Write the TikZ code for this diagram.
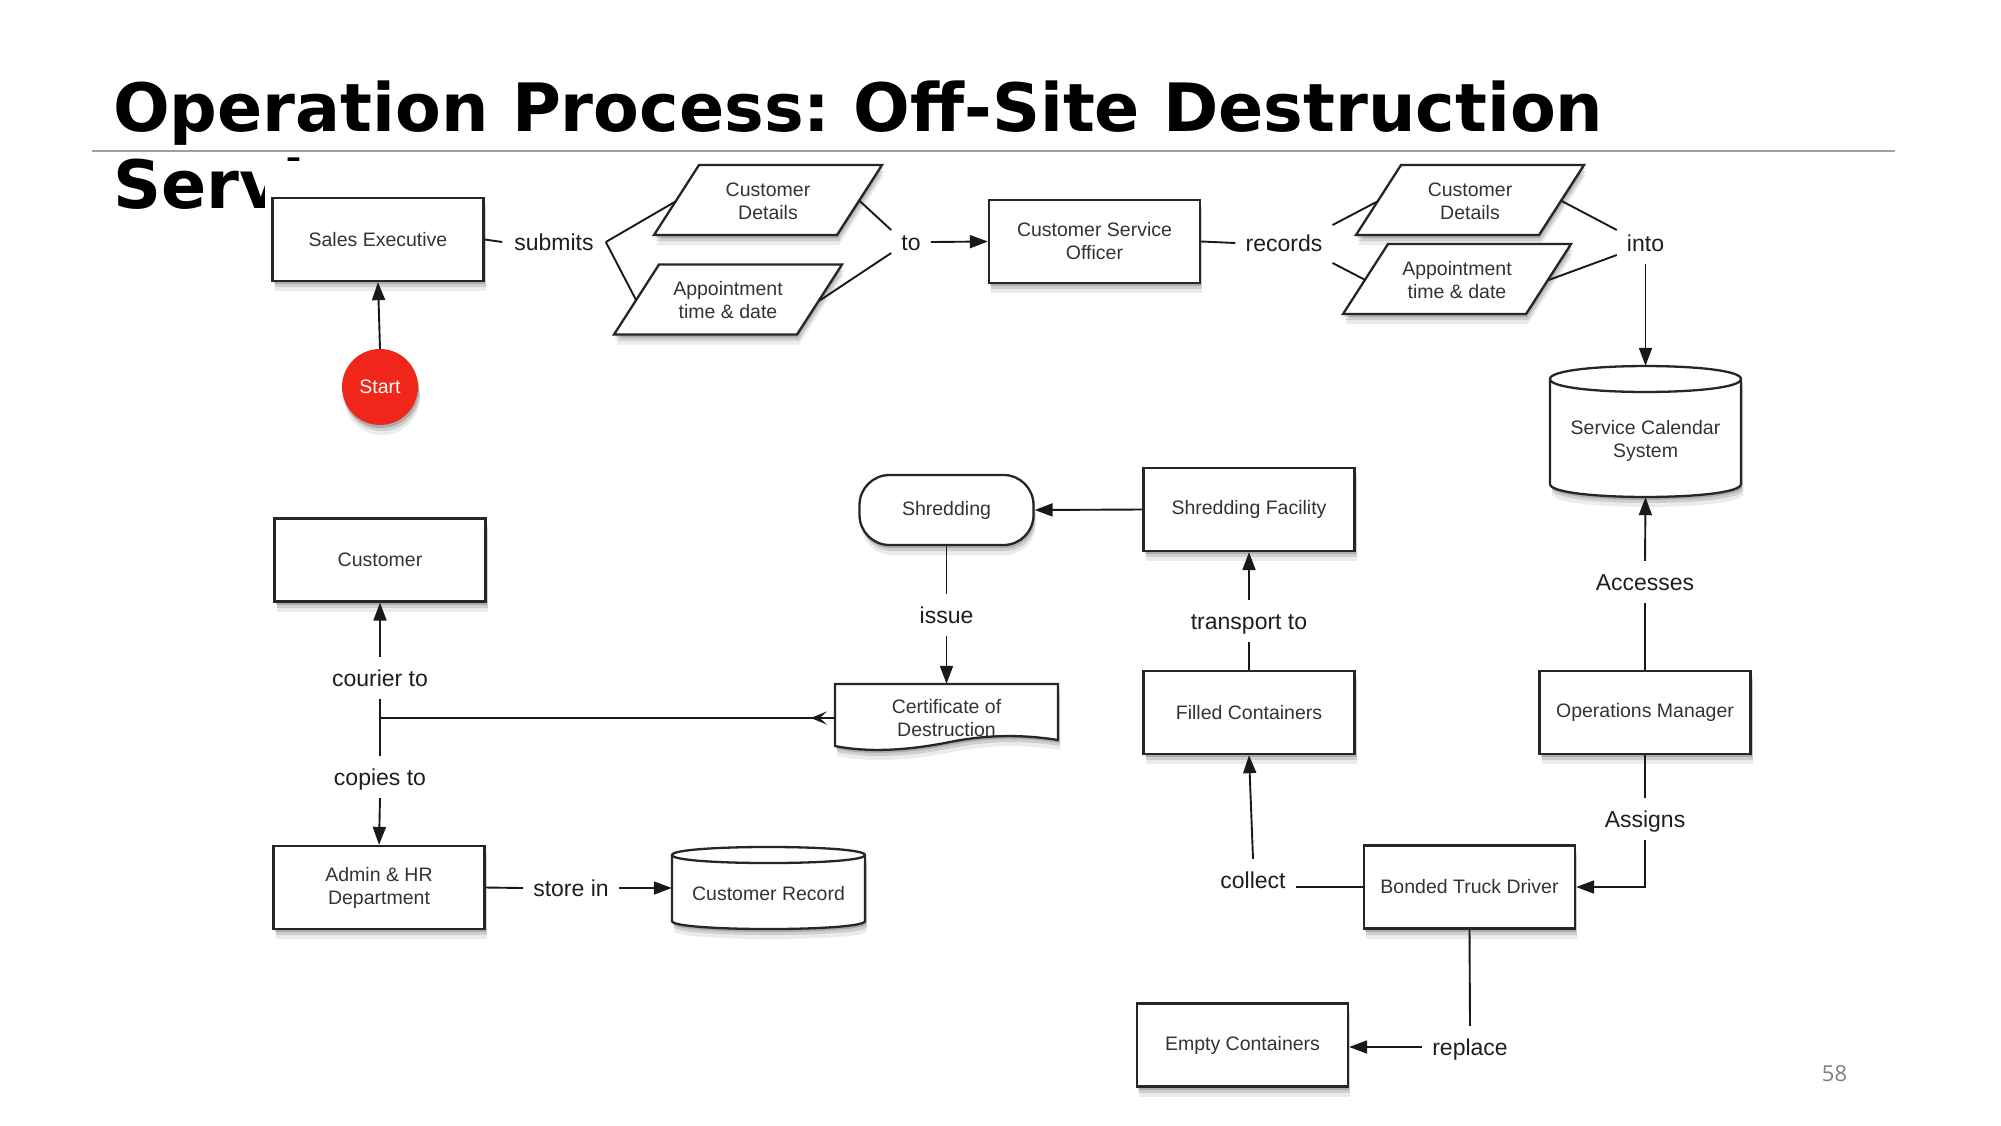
\documentclass[tikz,border=0pt]{standalone}
\usepackage{fontspec}
\setmainfont{Liberation Sans}
\newfontfamily\titlefont{DejaVu Sans}
\newfontfamily\numfont{Open Sans}
\usetikzlibrary{shadows,arrows.meta}
\definecolor{startred}{HTML}{F0261A}
\definecolor{boxtext}{HTML}{333333}
\definecolor{labeltext}{HTML}{1E1E1E}
\definecolor{rulegray}{HTML}{A0A0A0}
\definecolor{pagegray}{HTML}{808080}
\tikzset{
  softshadow/.style={
    drop shadow={shadow xshift=1pt, shadow yshift=-3pt, opacity=.16, fill=black},
    drop shadow={shadow xshift=2pt, shadow yshift=-6pt, opacity=.12, fill=black},
    drop shadow={shadow xshift=2pt, shadow yshift=-10pt, opacity=.08, fill=black}},
  shapeline/.style={draw=black!85, line width=2.3pt},
  boxstyle/.style={shapeline, fill=white, minimum width=211pt, minimum height=83pt,
    font=\fontsize{19.5}{23}\selectfont, text=boxtext, align=center, softshadow},
  textonly/.style={inner sep=0pt, font=\fontsize{19.5}{23}\selectfont, text=boxtext, align=center},
  lbl/.style={font=\fontsize{23}{27}\selectfont, text=labeltext, inner xsep=10pt,
    inner ysep=10pt, text height=19.5pt, text depth=2.5pt},
  conn/.style={draw=black!90, line width=1.9pt},
  arr/.style={conn, -{Triangle[length=18pt,width=13pt]}},
  openarr/.style={conn, -{Stealth[length=16pt,width=13pt,inset=7pt]}},
}
\newcommand\parashape[2]{%
  \draw[shapeline, fill=white, softshadow] (#1-114,#2+35) -- (#1+69,#2+35) -- (#1+114,#2-35) -- (#1-69,#2-35) -- cycle;}
\begin{document}
\begin{tikzpicture}[x=1pt, y=-1pt]
\useasboundingbox (0,0) rectangle (2001,1125);
\fill[white] (0,0) rectangle (2001,1125);
% title
\node[anchor=base west, inner sep=0pt, font=\titlefont\bfseries\frenchspacing\fontsize{66.7}{77}\selectfont] (title1) at (113,131) {Operation Process: Off-Site Destruction};
\node[anchor=base west, inner sep=0pt, font=\titlefont\bfseries\fontsize{66.7}{77}\selectfont] (title2) at (113,208) {Service};
\draw[rulegray, line width=2pt] (92,151) -- (1895,151);
% the diagram picture covers the title's second line
\fill[white] (265,161) rectangle (1800,1110);
% custom shapes
\parashape{768}{200}
\parashape{728}{299.5}
\parashape{1470}{200}
\parashape{1457}{279}
% certificate (document)
\draw[shapeline, fill=white, softshadow] (835,684) -- (1058,684) -- (1058,740)
  .. controls (1020,734) and (985,735) .. (950,742)
  .. controls (910,750) and (870,753) .. (835,746) -- cycle;
% service calendar cylinder
\draw[shapeline, fill=white, softshadow] (1550,379) -- (1550,484)
  .. controls (1550,501.3) and (1741,501.3) .. (1741,484) -- (1741,379)
  .. controls (1741,361.7) and (1550,361.7) .. cycle;
\draw[shapeline] (1550,379) .. controls (1550,396.3) and (1741,396.3) .. (1741,379);
% customer record cylinder
\draw[shapeline, fill=white, softshadow] (672,855) -- (672,921)
  .. controls (672,931.7) and (865,931.7) .. (865,921) -- (865,855)
  .. controls (865,844.3) and (672,844.3) .. cycle;
\draw[shapeline] (672,855) .. controls (672,865.7) and (865,865.7) .. (865,855);
% nodes of custom shapes
\node[textonly, minimum width=183pt, minimum height=70pt] (cd1) at (768,201) {Customer\\Details};
\node[textonly, minimum width=183pt, minimum height=70pt] (appt1) at (728,300.5) {Appointment\\time \& date};
\node[textonly, minimum width=183pt, minimum height=70pt] (cd2) at (1470,201) {Customer\\Details};
\node[textonly, minimum width=183pt, minimum height=70pt] (appt2) at (1457,280) {Appointment\\time \& date};
\node[textonly, minimum width=223pt, minimum height=60pt] (cert) at (946.5,714) {};
\node[textonly] (certtext) at (946.5,718) {Certificate of\\Destruction};
\node[textonly, minimum width=191pt, minimum height=131pt] (scs) at (1645.5,431.5) {};
\node[textonly] (scstext) at (1645.5,441) {Service Calendar\\System};
\node[textonly, minimum width=193pt, minimum height=82pt] (custrec) at (768.5,888) {};
\node[textonly] (custrectext) at (768.5,894) {Customer Record};
% boxes
\node[boxstyle] (sales) at (378,239.5) {Sales Executive};
\node[boxstyle] (cso) at (1094.5,241.5) {Customer Service\\Officer};
\node[boxstyle] (customer) at (380,560) {Customer};
\node[boxstyle] (admin) at (379,887.5) {Admin \& HR\\Department};
\node[boxstyle] (sf) at (1249,509.5) {Shredding Facility};
\node[boxstyle] (fc) at (1249,712.5) {Filled Containers};
\node[boxstyle] (om) at (1645,712.5) {Operations Manager};
\node[boxstyle] (btd) at (1469.5,887) {Bonded Truck Driver};
\node[boxstyle] (ec) at (1242.5,1045) {Empty Containers};
\node[boxstyle, rounded corners=30pt, minimum width=174pt, minimum height=70pt] (shred) at (946.5,510) {Shredding};
\node[circle, fill=startred, minimum size=76pt, inner sep=0pt, text=white!95!yellow, font=\fontsize{19.5}{23}\selectfont, softshadow] (start) at (380,387) {Start};
% labels
\node[lbl, inner xsep=12pt] (submits) at (554,242) {submits};
\node[lbl] (to) at (911,242) {to};
\node[lbl] (records) at (1284,243) {records};
\node[lbl] (into) at (1645.5,243) {into};
\node[lbl] (issue) at (946.5,615) {issue};
\node[lbl] (courier) at (380,678) {courier to};
\node[lbl] (copies) at (380,777) {copies to};
\node[lbl] (storein) at (571,888) {store in};
\node[lbl] (transport) at (1249,621) {transport to};
\node[lbl] (accesses) at (1645,582) {Accesses};
\node[lbl] (assigns) at (1645,819) {Assigns};
\node[lbl] (collect) at (1253,880) {collect};
\node[lbl] (replace) at (1470,1047) {replace};
% connectors
\draw[arr] (start.north) -- (sales.south);
\draw[conn] (sales.east) -- (submits.west);
\draw[conn] (submits.east) -- (cd1.west);
\draw[conn] (submits.east) -- (appt1.west);
\draw[conn] (cd1.east) -- ([yshift=12pt]to.west);
\draw[conn] (appt1.east) -- ([yshift=-11pt]to.west);
\draw[arr] (to.east) -- (cso.west);
\draw[conn] (cso.east) -- (records.west);
\draw[conn] ([yshift=18pt]records.east) -- (cd2.west);
\draw[conn] ([yshift=-20pt]records.east) -- (appt2.west);
\draw[conn] (cd2.east) -- ([yshift=13pt]into.west);
\draw[conn] (appt2.east) -- ([yshift=-12pt]into.west);
\draw[arr] (into.south) -- (scs.north);
\draw[arr] (sf.west) -- (shred.east);
\draw[conn] (shred.south) -- (issue.north);
\draw[arr] (issue.south) -- (cert.north);
\coordinate (junc) at ([yshift=-4pt]cert.west -| courier.south);
\coordinate (certstart) at ([yshift=-4pt]cert.west);
\coordinate (certtip) at ([xshift=-24pt]certstart);
\draw[conn] (certstart) -- (junc);
\draw[openarr] (certstart) -- (certtip);
\draw[arr] (courier.north) -- (customer.south);
\draw[conn] (courier.south) -- (copies.north);
\draw[arr] (copies.south) -- (admin.north);
\draw[conn] (admin.east) -- (storein.west);
\draw[arr] (storein.east) -- (custrec.west);
\draw[conn] (fc.north) -- (transport.south);
\draw[arr] (transport.north) -- (sf.south);
\draw[conn] (om.north) -- (accesses.south);
\draw[arr] (accesses.north) -- (scs.south);
\draw[conn] (om.south) -- (assigns.north);
\draw[arr] (assigns.south) |- (btd.east);
\draw[conn] (btd.west) -- (collect.east |- btd.west);
\draw[arr] (collect.north) -- (fc.south);
\draw[conn] (btd.south) -- (replace.north);
\draw[arr] (replace.west) -- (replace.west -| ec.east);
% page number
\node[font=\numfont\fontsize{22}{26}\selectfont, text=pagegray, inner sep=0pt] (pagenum) at (1834.5,1074) {58};
\end{tikzpicture}
\end{document}
